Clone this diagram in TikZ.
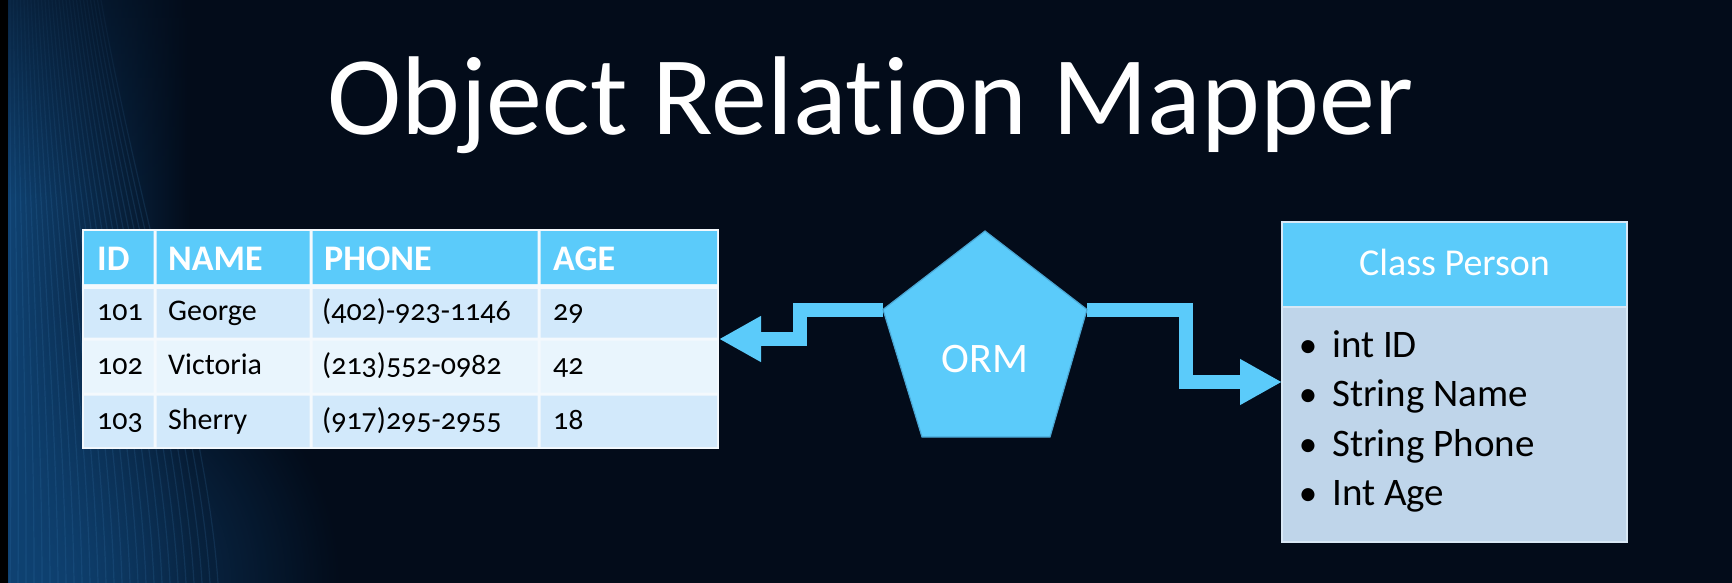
\documentclass[tikz,border=0pt]{standalone}
\usepackage{fontspec}
\setmainfont{Carlito}[Ligatures=NoCommon]
\newfontfamily\oldnum[Numbers=OldStyle,Ligatures=NoCommon]{Carlito}
\usetikzlibrary{arrows.meta,fadings}
\definecolor{bgc}{HTML}{030C1A}
\definecolor{streakc}{HTML}{0F4272}
\definecolor{streakl}{HTML}{3A7DB5}
\definecolor{hdr}{HTML}{5BCBFA}
\definecolor{rowa}{HTML}{D2E9FB}
\definecolor{rowb}{HTML}{E9F5FD}
\definecolor{tborder}{HTML}{F4F9FD}
\definecolor{clsbody}{HTML}{BFD5EA}
\definecolor{clsedge}{HTML}{D9E8F5}
\definecolor{pentedge}{HTML}{4AA6D3}
\tikzfading[name=radfade, inner color=transparent!0, outer color=transparent!100]
\tikzfading[name=topdark, top color=transparent!0, bottom color=transparent!100]
\newcommand\tabrow[3]{\fill[#3] (84,#1) rectangle (153.5,#2) (156.5,#1) rectangle (309.5,#2) (312.5,#1) rectangle (537.5,#2) (540.5,#1) rectangle (717,#2);}
\begin{document}
\begin{tikzpicture}[x=1pt,y=-1pt,
  titletxt/.style={text=white, font=\fontsize{112}{120}\selectfont, inner sep=0pt, anchor=base west},
  thead/.style={text=white, font=\bfseries\fontsize{36}{40}\selectfont, inner sep=0pt, anchor=base west},
  tcell/.style={text=black, font=\oldnum\fontsize{30}{32}\selectfont, inner sep=0pt, anchor=base west},
  clstitle/.style={text=white, font=\fontsize{38}{42}\selectfont, inner sep=0pt, anchor=base},
  clsitem/.style={text=black, font=\fontsize{39}{42}\selectfont, inner sep=0pt, anchor=base west},
  bul/.style={text=black, font=\fontsize{37}{42}\selectfont, inner sep=0pt, anchor=base},
  ormtxt/.style={text=white, font=\fontsize{42}{46}\selectfont, inner sep=0pt, anchor=base},
  conn/.style={draw=hdr, line width=14pt, line join=miter, line cap=butt, -{Triangle[length=42pt,width=43pt]}},
  box/.style={inner sep=0pt, outer sep=0pt, anchor=north west},
  streakline/.style={draw=streakl, line width=1.2pt, opacity=0.18}]
\useasboundingbox (0,0) rectangle (1732,583);
% background
\fill[bgc] (0,0) rectangle (1732,583);
\shade[left color=streakc, right color=bgc] (8,0) rectangle (190,583);
\fill[streakc, path fading=radfade, fill opacity=0.9] (40,583) ellipse (300 and 280);
\foreach \i in {0,...,26} {
  \draw[streakline] (10+\i*8, 583) .. controls (12+\i*7.5, 420) and (10+\i*5, 220) .. (10+\i*3.5, 0);
}
\fill[bgc, path fading=topdark, fill opacity=0.55] (8,0) rectangle (260,200);
\fill[black] (0,0) rectangle (8,583);
% title
\node[titletxt] (title) at (327,135) {Object Relation Mapper};
% table
\node[box, fill=tborder, minimum width=637pt, minimum height=220pt] (tab) at (82,229) {};
\tabrow{231}{284}{hdr}
\tabrow{289}{337.5}{rowa}
\tabrow{340.5}{392.5}{rowb}
\tabrow{395.5}{447}{rowa}
\node[thead] (h1) at (97,270) {ID};
\node[thead] (h2) at (168,270) {NAME};
\node[thead] (h3) at (324,270) {PHONE};
\node[thead] (h4) at (553,270) {AGE};
\node[tcell] (a1) at (97,320) {101};
\node[tcell] (a2) at (168,320) {George};
\node[tcell] (a3) at (322,320) {(402)-923-1146};
\node[tcell] (a4) at (553,320) {29};
\node[tcell] (b1) at (97,374) {102};
\node[tcell] (b2) at (168,374) {Victoria};
\node[tcell] (b3) at (322,374) {(213)552-0982};
\node[tcell] (b4) at (553,374) {42};
\node[tcell] (c1) at (97,429) {103};
\node[tcell] (c2) at (168,429) {Sherry};
\node[tcell] (c3) at (322,429) {(917)295-2955};
\node[tcell] (c4) at (553,429) {18};
% class box
\node[box, fill=clsbody, minimum width=345pt, minimum height=320pt] (cls) at (1282,222) {};
\node[box, fill=hdr, minimum width=345pt, minimum height=85pt] (clshead) at (1282,222) {};
\draw[clsedge, line width=1.5pt] (cls.north west) rectangle (cls.south east);
\draw[clsedge, line width=1.5pt] (clshead.south west) -- (clshead.south east);
\node[clstitle] (ct) at (1454.5,275) {Class Person};
\node[bul] (d1) at (1308,357) {\textbullet};
\node[bul] (d2) at (1308,406) {\textbullet};
\node[bul] (d3) at (1308,456) {\textbullet};
\node[bul] (d4) at (1308,505) {\textbullet};
\node[clsitem] (i1) at (1332,357) {int ID};
\node[clsitem] (i2) at (1332,406) {String Name};
\node[clsitem] (i3) at (1332,456) {String Phone};
\node[clsitem] (i4) at (1332,505) {Int Age};
% pentagon
\coordinate (pT) at (985,231);
\coordinate (pUL) at (883,309.5);
\coordinate (pBL) at (922,437);
\coordinate (pBR) at (1050,437);
\coordinate (pUR) at (1087,309.5);
\draw[conn] (pUL) -- ++(-83,0) |- (tab.east);
\draw[conn] (pUR) -- ++(98.5,0) |- (cls.west);
\filldraw[fill=hdr, draw=pentedge, line width=1.2pt, line join=miter] (pT) -- (pUL) -- (pBL) -- (pBR) -- (pUR) -- cycle;
\node[ormtxt] (orm) at (985,372) {ORM};
\end{tikzpicture}
\end{document}
